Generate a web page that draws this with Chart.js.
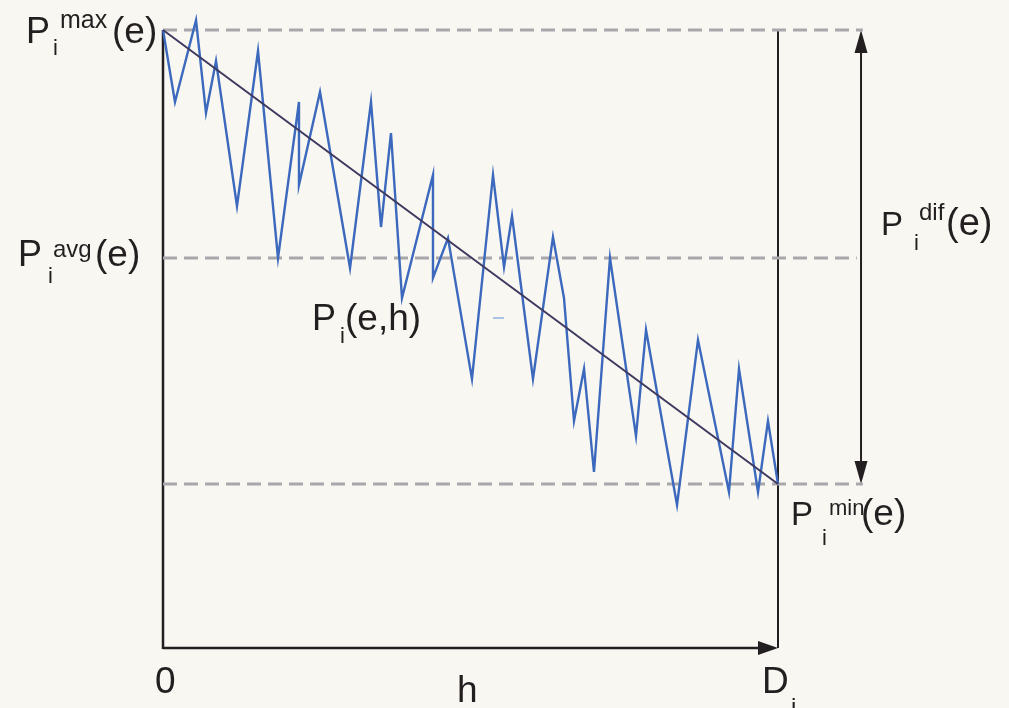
<!DOCTYPE html>
<html><head><meta charset="utf-8">
<script src="https://cdn.jsdelivr.net/npm/chart.js@4/dist/chart.umd.min.js"></script>
<style>
html,body{margin:0;padding:0;background:#f8f7f1;}
#wrap{width:1009px;height:708px;position:relative;}
canvas{display:block;}
</style>
</head><body>
<div id="wrap"><canvas id="c" width="1009" height="708"></canvas></div>
<script>
// h positions (0..D_i scaled to 0..100) and P_i(e,h) values (scaled so P_max = 100)
const hValues = [0, 1.95, 5.37, 6.99, 8.62, 12.03, 15.45, 18.70, 22.11, 22.11, 25.53, 30.41, 33.82, 35.45, 37.07, 38.86, 43.90, 43.90, 46.34, 50.24, 53.66, 55.45, 56.75, 60.16, 63.41, 65.20, 66.83, 68.46, 70.08, 72.68, 76.91, 78.54, 83.58, 86.99, 92.03, 93.66, 96.75, 98.37, 100];
const pValues = [100, 88.35, 101.6, 86.57, 94.98, 71.52, 96.6, 63.11, 88.35, 74.92, 89.97, 61.49, 88.35, 68.12, 83.33, 56.63, 76.54, 59.87, 66.34, 43.53, 76.54, 61.65, 69.90, 43.53, 66.50, 56.63, 36.73, 45.15, 28.48, 63.11, 34.30, 51.46, 23.14, 49.84, 25.24, 45.15, 25.24, 36.73, 26.54];
const pMax = 100;
const pAvg = 63.11;
const pMin = 26.54;
const hStart = 0;
const hEnd = 100;          // D_i
const refEndMax = 113.8;   // dashed reference lines extend past D_i
const refEndAvg = 112.8;
const refEndMin = 113.8;
const difArrowH = 113.5;   // horizontal position of the P_dif double arrow
const strayH = [53.66, 55.45];
const strayP = [53.4, 53.4];

const zig = hValues.map((h, i) => ({x: h, y: pValues[i]}));
const diag = [{x: hStart, y: pMax}, {x: hEnd, y: pMin}];

const TXT = '#231f20';
const FONT = '"Liberation Sans", Arial, sans-serif';

function drawParts(ctx, parts) {
  ctx.save();
  ctx.fillStyle = TXT;
  ctx.textBaseline = 'alphabetic';
  ctx.textAlign = 'left';
  parts.forEach(p => {
    ctx.font = p.s + 'px ' + FONT;
    ctx.fillText(p.t, p.x, p.y);
  });
  ctx.restore();
}

function arrowHead(ctx, tx, ty, dir, len, half) {
  ctx.beginPath();
  if (dir === 'right') { ctx.moveTo(tx, ty); ctx.lineTo(tx - len, ty - half); ctx.lineTo(tx - len, ty + half); }
  if (dir === 'up') { ctx.moveTo(tx, ty); ctx.lineTo(tx - half, ty + len); ctx.lineTo(tx + half, ty + len); }
  if (dir === 'down') { ctx.moveTo(tx, ty); ctx.lineTo(tx - half, ty - len); ctx.lineTo(tx + half, ty - len); }
  ctx.closePath();
  ctx.fill();
}

const decor = {
  id: 'decor',
  beforeDatasetsDraw(chart) {
    const ctx = chart.ctx, xs = chart.scales.x, ys = chart.scales.y;
    const x0 = xs.getPixelForValue(hStart), x1 = xs.getPixelForValue(hEnd);
    const yTop = ys.getPixelForValue(pMax), yBot = ys.getPixelForValue(0);
    ctx.save();
    ctx.strokeStyle = '#231f20';
    ctx.fillStyle = '#231f20';
    ctx.lineWidth = 2.5;
    ctx.beginPath(); ctx.moveTo(x0, yTop); ctx.lineTo(x0, yBot + 1); ctx.stroke();
    ctx.lineWidth = 2;
    ctx.beginPath(); ctx.moveTo(x1, yTop); ctx.lineTo(x1, yBot); ctx.stroke();
    ctx.lineWidth = 2.5;
    ctx.beginPath(); ctx.moveTo(x0, yBot); ctx.lineTo(x1 - 12, yBot); ctx.stroke();
    arrowHead(ctx, x1, yBot, 'right', 20, 7);
    const xa = xs.getPixelForValue(difArrowH);
    const ya = ys.getPixelForValue(pMax), yb = ys.getPixelForValue(pMin);
    ctx.lineWidth = 2;
    ctx.beginPath(); ctx.moveTo(xa, ya + 15); ctx.lineTo(xa, yb - 15); ctx.stroke();
    arrowHead(ctx, xa, ya, 'up', 23, 6.5);
    arrowHead(ctx, xa, yb, 'down', 23, 6.5);
    ctx.restore();
  },
  afterDraw(chart) {
    const ctx = chart.ctx, xs = chart.scales.x, ys = chart.scales.y;
    const x0 = xs.getPixelForValue(hStart), x1 = xs.getPixelForValue(hEnd);
    const yMax = ys.getPixelForValue(pMax), yAvg = ys.getPixelForValue(pAvg), yMin = ys.getPixelForValue(pMin);
    const yBot = ys.getPixelForValue(0);
    const xa = xs.getPixelForValue(difArrowH);
    let bx = x0 - 137, by = yMax + 13;
    drawParts(ctx, [
      {t: 'P', x: bx, y: by, s: 36},
      {t: 'i', x: bx + 27, y: by + 12, s: 22},
      {t: 'max', x: bx + 34, y: by - 15, s: 25},
      {t: '(e)', x: bx + 86, y: by, s: 37}
    ]);
    bx = x0 - 145; by = yAvg + 8;
    drawParts(ctx, [
      {t: 'P', x: bx, y: by, s: 36},
      {t: 'i', x: bx + 30, y: by + 17, s: 22},
      {t: 'avg', x: bx + 35, y: by - 9, s: 24},
      {t: '(e)', x: bx + 77, y: by, s: 37}
    ]);
    bx = 312; by = 330;
    drawParts(ctx, [
      {t: 'P', x: bx, y: by, s: 36},
      {t: 'i', x: bx + 28, y: by + 13, s: 22},
      {t: '(e,h)', x: bx + 33, y: by, s: 37}
    ]);
    bx = xa + 20; by = 235;
    drawParts(ctx, [
      {t: 'P', x: bx, y: by, s: 33},
      {t: 'i', x: bx + 33, y: by + 15, s: 22},
      {t: 'dif', x: bx + 38, y: by - 15, s: 24},
      {t: '(e)', x: bx + 65, y: by, s: 38}
    ]);
    bx = x1 + 13; by = yMin + 41;
    drawParts(ctx, [
      {t: 'P', x: bx, y: by, s: 33},
      {t: 'i', x: bx + 31, y: by + 20, s: 22},
      {t: 'min', x: bx + 38, y: by - 10, s: 22},
      {t: '(e)', x: bx + 70, y: by, s: 37}
    ]);
    drawParts(ctx, [
      {t: '0', x: x0 - 8, y: yBot + 45, s: 37},
      {t: 'h', x: 457, y: yBot + 54, s: 37},
      {t: 'D', x: x1 - 16, y: yBot + 45, s: 37},
      {t: 'i', x: x1 + 13, y: yBot + 67, s: 24}
    ]);
  }
};

const dashed = (yv, xe) => ({
  data: [{x: hStart, y: yv}, {x: xe, y: yv}],
  borderColor: '#a8a8ac', borderWidth: 3, borderDash: [14, 7],
  pointRadius: 0, showLine: true, clip: false, borderCapStyle: 'butt', order: 5
});

new Chart(document.getElementById('c'), {
  type: 'scatter',
  data: {
    datasets: [
      dashed(pMax, refEndMax),
      dashed(pAvg, refEndAvg),
      dashed(pMin, refEndMin),
      {data: zig, borderColor: '#3c69bd', borderWidth: 2.4, pointRadius: 0, showLine: true, clip: false, tension: 0, order: 2},
      {data: diag, borderColor: '#3f3960', borderWidth: 2, pointRadius: 0, showLine: true, clip: false, order: 1},
      {data: strayH.map((h, i) => ({x: h, y: strayP[i]})), borderColor: '#a9c4e6', borderWidth: 2, pointRadius: 0, showLine: true, clip: false, order: 3}
    ]
  },
  options: {
    responsive: false,
    animation: false,
    events: [],
    layout: {padding: {left: 163, top: 30, right: 231, bottom: 60}},
    plugins: {legend: {display: false}, title: {display: false}, tooltip: {enabled: false}},
    scales: {
      x: {type: 'linear', min: 0, max: 100, display: false},
      y: {type: 'linear', min: 0, max: 100, display: false}
    }
  },
  plugins: [decor]
});
</script>
</body></html>
